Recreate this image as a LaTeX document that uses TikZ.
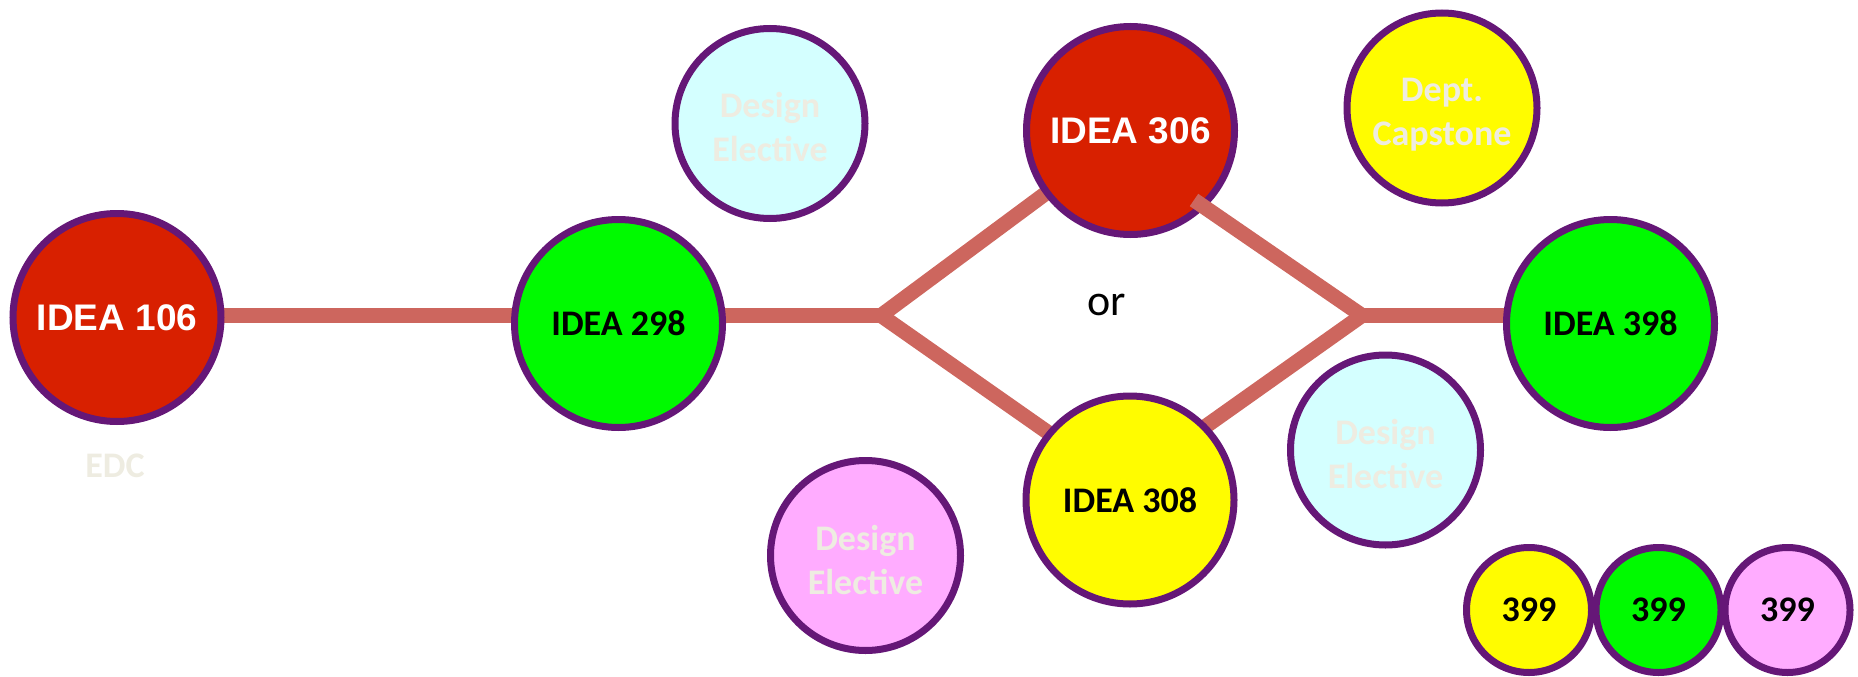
\documentclass[tikz,border=0pt]{standalone}
\usepackage{fontspec}
\setmainfont{Carlito}
\newfontfamily\arialfont{Liberation Sans}
\usetikzlibrary{calc,backgrounds}
\definecolor{rim}{RGB}{101,23,119}
\definecolor{coursered}{RGB}{216,32,0}
\definecolor{coursegreen}{RGB}{0,250,0}
\definecolor{courseyellow}{RGB}{255,252,0}
\definecolor{coursecyan}{RGB}{212,255,255}
\definecolor{coursepink}{RGB}{255,172,255}
\definecolor{pathred}{RGB}{205,102,94}
\definecolor{paletext}{RGB}{238,236,225}
\begin{document}
\begin{tikzpicture}[x=1pt,y=-1pt,
  course/.style={circle,draw=rim,line width=7pt,inner sep=0pt,minimum size=208pt,
    align=center,font=\fontsize{36}{44}\selectfont\bfseries},
  redcourse/.style={course,fill=coursered,text=white,
    font=\arialfont\fontsize{37}{44}\selectfont\bfseries},
  elective/.style={course,minimum size=190pt,text=paletext},
  small/.style={course,minimum size=125pt},
  pathline/.style={draw=pathred,line width=15pt}]
\useasboundingbox (0,0) rectangle (1858,677);

% main sequence of courses
\node[redcourse] (n106) at (117,317.5) {IDEA 106};
\node[font=\fontsize{36}{44}\selectfont\bfseries,text=paletext,anchor=base] (edc) at (115,477) {EDC};
\node[course,fill=coursegreen] (n298) at (618.5,323.5) {IDEA 298};
\node[redcourse] (n306) at (1130.5,130.5) {IDEA 306};
\node[course,fill=courseyellow] (n308) at (1130,500) {IDEA 308};
\node[course,fill=coursegreen] (n398) at (1610.5,323.5) {IDEA 398};
\node[font=\fontsize{44}{52}\selectfont,anchor=base] (or) at (1107,315) {or};

% electives and capstone (labels sit on the pale circles)
\node[elective,fill=coursecyan] (de1) at (770,123.5) {};
\node[elective,fill=coursepink] (de3) at (865.5,555.5) {};
\node[elective,fill=coursecyan] (de2) at (1385.5,450) {};
\node[elective,fill=courseyellow] (cap) at (1442,108) {};
\node[text=paletext,align=center,font=\fontsize{36}{44}\selectfont\bfseries,yshift=-4pt] (de1t) at (de1) {Design\\Elective};
\node[text=paletext,align=center,font=\fontsize{36}{44}\selectfont\bfseries,yshift=-4pt] (de3t) at (de3) {Design\\Elective};
\node[text=paletext,align=center,font=\fontsize{36}{44}\selectfont\bfseries,yshift=-4pt] (de2t) at (de2) {Design\\Elective};
\node[text=paletext,align=center,font=\fontsize{36}{44}\selectfont\bfseries,yshift=-7pt] (capt) at (cap) {Dept.\\Capstone};

% 399 options
\node[small,fill=courseyellow] (s1) at (1529,610) {399};
\node[small,fill=coursegreen] (s2) at (1658.5,610) {399};
\node[small,fill=coursepink] (s3) at (1787.5,610) {399};

% branch points
\coordinate (jl) at (881,315.5);
\coordinate (jr) at (1362,315.5);
\coordinate (a306) at (1194,200);

\begin{pgfonlayer}{background}
  \draw[pathline] (n106.center |- jl) -- (jl);
  \draw[pathline] (jl) -- (n306.center);
  \draw[pathline] (jl) -- ($(n308.center)+(0,-10)$);
  \draw[pathline] ($(n308.center)+(0,-20)$) -- (jr);
  \draw[pathline] (jr) -- (n398.center |- jr);
\end{pgfonlayer}
\draw[pathline] (a306) -- (jr);
\end{tikzpicture}
\end{document}
